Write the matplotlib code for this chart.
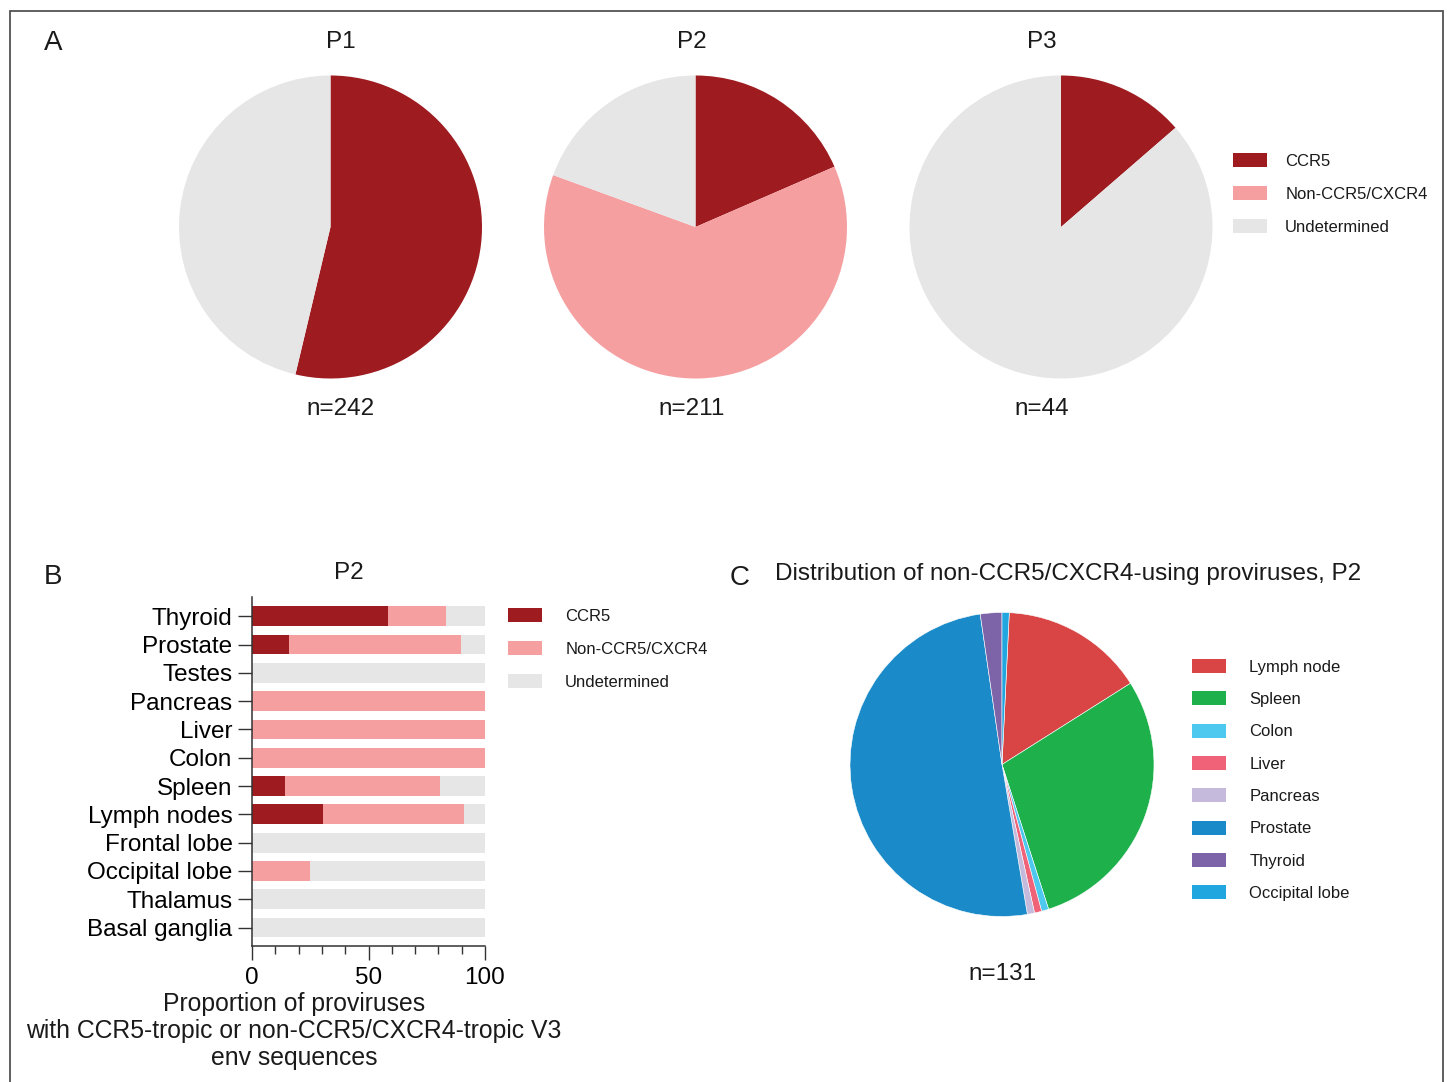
import matplotlib.pyplot as plt
from matplotlib.patches import Patch, Rectangle
from matplotlib.ticker import MultipleLocator

plt.rcParams['font.family'] = ['Liberation Sans', 'DejaVu Sans']
plt.rcParams['text.color'] = '#1a1a1a'

# Coreceptor usage per participant (counts of proviruses)
tropism = ['CCR5', 'Non-CCR5/CXCR4', 'Undetermined']
tropism_colors = ['#9e1b20', '#f59fa1', '#e6e6e6']
participants = ['P1', 'P2', 'P3']
p1_counts = [130, 0, 112]
p2_counts = [39, 131, 41]
p3_counts = [6, 0, 38]

# P2 tissues, percent of proviruses in each tropism class
tissues = ['Thyroid', 'Prostate', 'Testes', 'Pancreas', 'Liver', 'Colon', 'Spleen',
           'Lymph nodes', 'Frontal lobe', 'Occipital lobe', 'Thalamus', 'Basal ganglia']
ccr5_pct = [58.3, 15.7, 0, 0, 0, 0, 14.0, 30.3, 0, 0, 0, 0]
non_pct = [25.0, 74.2, 0, 100, 100, 100, 66.7, 60.6, 0, 25.0, 0, 0]
und_pct = [16.7, 10.1, 100, 0, 0, 0, 19.3, 9.1, 100, 75.0, 100, 100]

# Non-CCR5/CXCR4 proviruses in P2 by tissue
dist_tissues = ['Lymph node', 'Spleen', 'Colon', 'Liver', 'Pancreas', 'Prostate',
                'Thyroid', 'Occipital lobe']
dist_counts = [20, 38, 1, 1, 1, 66, 3, 1]
dist_colors = ['#d94545', '#1db04b', '#4dc9ef', '#f06277', '#c5b9dc', '#1a8bc8',
               '#7d64a8', '#22a6e0']

W, H = 1448, 1082
fig = plt.figure(figsize=(W / 100, H / 100), dpi=100)
FS = 17.5


def px_rect(left, top, right, bottom):
    return [left / W, 1 - bottom / H, (right - left) / W, (bottom - top) / H]


def put_text(x, y, s, size=FS, **kw):
    kw.setdefault('ha', 'center')
    kw.setdefault('va', 'center')
    fig.text(x / W, 1 - y / H, s, fontsize=size, **kw)


def pie_axes(cx, cy, r):
    ax = fig.add_axes(px_rect(cx - r, cy - r, cx + r, cy + r))
    ax.set_aspect('equal')
    ax.axis('off')
    return ax


def add_legend(labels, colors, x, y, textpad, spacing):
    handles = [Patch(facecolor=c, edgecolor='none') for c in colors]
    fig.legend(handles, labels, loc='center left', bbox_to_anchor=(x / W, 1 - y / H),
               frameon=False, borderpad=0, borderaxespad=0, fontsize=12,
               handlelength=2.05, handleheight=0.93, handletextpad=textpad,
               labelspacing=spacing)


# Panel A: three pies
centers = [(330.5, 227), (695.5, 227), (1061, 227)]
label_x = [341, 692, 1042]
for name, counts, (cx, cy), lx in zip(participants, [p1_counts, p2_counts, p3_counts],
                                      centers, label_x):
    ax = pie_axes(cx, cy, 151.5)
    ax.pie(counts, colors=tropism_colors, startangle=90, counterclock=False,
           radius=1, wedgeprops=dict(linewidth=0))
    ax.set_xlim(-1, 1)
    ax.set_ylim(-1, 1)
    put_text(lx, 42, name)
    put_text(lx, 409, f'n={sum(counts)}')

add_legend(tropism, tropism_colors, 1233, 194, 1.08, 1.03)
put_text(53, 43, 'A', size=20)

# Panel B: stacked horizontal bars
axb = fig.add_axes(px_rect(252, 597, 485, 945.7))
ypos = list(range(len(tissues)))
left2 = [a + b for a, b in zip(ccr5_pct, non_pct)]
axb.barh(ypos, ccr5_pct, height=0.7, color=tropism_colors[0])
axb.barh(ypos, non_pct, left=ccr5_pct, height=0.7, color=tropism_colors[1])
axb.barh(ypos, und_pct, left=left2, height=0.7, color=tropism_colors[2])
axb.set_xlim(0, 100)
axb.set_ylim(11.64, -0.68)
axb.set_yticks(ypos)
axb.set_yticklabels(tissues, fontsize=FS)
axb.set_xticks([0, 50, 100])
axb.set_xticklabels(['0', '50', '100'], fontsize=FS)
axb.xaxis.set_minor_locator(MultipleLocator(10))
axb.tick_params(axis='both', which='major', length=10, width=1, color='#333333', pad=4)
axb.tick_params(axis='x', which='minor', length=5.5, width=1, color='#333333')
axb.tick_params(axis='x', which='major', pad=5)
for side in ['top', 'right']:
    axb.spines[side].set_visible(False)
for side in ['left', 'bottom']:
    axb.spines[side].set_linewidth(1.1)
    axb.spines[side].set_color('#333333')

put_text(294, 1031, 'Proportion of proviruses\nwith CCR5-tropic or non-CCR5/CXCR4-tropic V3\nenv sequences',
         size=17.8, linespacing=1.15)
put_text(349, 573, 'P2')
put_text(53, 577, 'B', size=20)
add_legend(tropism, tropism_colors, 508, 649, 1.38, 1.03)

# Panel C: tissue distribution pie
axc = pie_axes(1002, 764.5, 152)
axc.pie(dist_counts, colors=dist_colors, counterclock=False,
        startangle=90 - 360 * dist_counts[-1] / sum(dist_counts),
        wedgeprops=dict(linewidth=0.4, edgecolor='white'))
axc.set_xlim(-1, 1)
axc.set_ylim(-1, 1)
put_text(1003, 974, f'n={sum(dist_counts)}')
put_text(740, 578, 'C', size=20)
put_text(775, 574, 'Distribution of non-CCR5/CXCR4-using proviruses, P2', ha='left')
add_legend(dist_tissues, dist_colors, 1192, 780, 1.38, 0.99)

# outer frame
fig.add_artist(Rectangle((9.5 / W, -0.05), (1443 - 9.5) / W, 1.05 - 10.5 / H,
                         transform=fig.transFigure, fill=False, lw=1.2, ec='#444444'))

fig.savefig('out.png', dpi=100)
